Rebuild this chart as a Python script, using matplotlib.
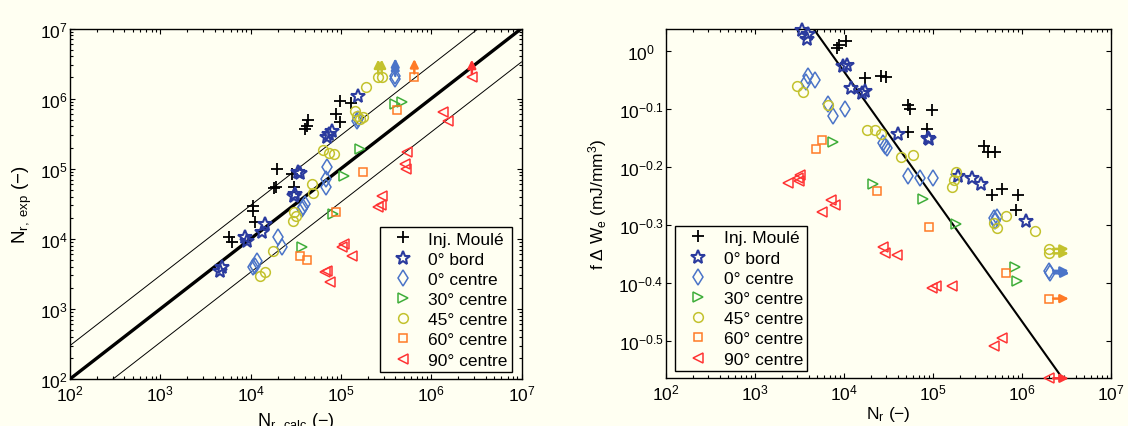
import matplotlib
matplotlib.use('Agg')
import matplotlib.pyplot as plt
import numpy as np
from matplotlib.ticker import FixedLocator, FixedFormatter, LogLocator, NullLocator, NullFormatter

plt.rcParams['font.family'] = ['Liberation Sans', 'DejaVu Sans']
plt.rcParams['mathtext.fontset'] = 'custom'
plt.rcParams['mathtext.rm'] = 'Liberation Sans'
plt.rcParams['mathtext.it'] = 'Liberation Sans:italic'
plt.rcParams['mathtext.bf'] = 'Liberation Sans:bold'
plt.rcParams['mathtext.default'] = 'regular'

BG = '#fffff2'
FS = 12.5

labels = ['Inj. Moulé', '0° bord', '0° centre', '30° centre',
          '45° centre', '60° centre', '90° centre']

# ---- left panel : N_r,calc vs N_r,exp ----
inj_calc = [1.98e4, 2.85e4, 1.91e4, 1.83e4, 3.03e4, 4.0e4, 4.36e4, 4.25e4, 8.75e4,
            9.8e4, 9.8e4, 1.29e5, 1.07e4, 1.07e4, 1.12e4, 5.7e3, 6.2e3]
inj_exp = [9.9e4, 8.4e4, 5.4e4, 5.3e4, 5.5e4, 3.7e5, 5.0e5, 4.1e5, 6.0e5,
           9.1e5, 4.6e5, 8.6e5, 2.96e4, 2.52e4, 1.72e4, 1.05e4, 8.9e3]

b0_calc = [4.58e3, 4.79e3, 8.67e3, 9.06e3, 1.33e4, 1.44e4, 3.10e4, 3.05e4, 3.37e4,
           3.52e4, 6.97e4, 7.4e4, 7.9e4, 1.56e5]
b0_exp = [3.51e3, 3.92e3, 1.05e4, 9.4e3, 1.24e4, 1.63e4, 4.36e4, 4.12e4, 8.9e4,
          8.7e4, 2.81e5, 3.16e5, 3.48e5, 1.10e6]

c0_calc = [1.07e4, 1.12e4, 1.17e4, 2.03e4, 2.21e4, 3.68e4, 3.84e4, 4.0e4, 6.8e4,
           6.84e4, 6.97e4, 1.50e5, 1.56e5, 4.0e5, 4.0e5]
c0_exp = [3.92e3, 4.13e3, 4.88e3, 1.05e4, 7.6e3, 2.66e4, 2.81e4, 3.13e4, 5.43e4,
          7.13e4, 1.05e5, 4.84e5, 5.12e5, 2.09e6, 1.88e6]

c30_calc = [3.72e4, 8.1e4, 1.07e5, 1.62e5, 3.98e5, 4.79e5]
c30_exp = [7.6e3, 2.24e4, 7.8e4, 1.91e5, 8.3e5, 8.9e5]

c45_calc = [1.27e4, 1.44e4, 1.78e4, 2.92e4, 3.03e4, 3.18e4, 4.74e4, 4.95e4, 6.38e4,
            7.45e4, 8.4e4, 1.43e5, 1.51e5, 1.63e5, 1.77e5, 1.90e5, 2.59e5, 2.83e5]
c45_exp = [2.98e3, 3.40e3, 6.76e3, 1.81e4, 2.39e4, 2.14e4, 6.05e4, 4.46e4, 1.87e5,
           1.66e5, 1.62e5, 6.7e5, 5.6e5, 5.12e5, 5.41e5, 1.45e6, 2.01e6, 2.01e6]

c60_calc = [3.55e4, 4.17e4, 8.9e4, 1.74e5, 4.17e5, 6.5e5]
c60_exp = [5.6e3, 5.0e3, 2.4e4, 9.1e4, 6.8e5, 2.04e6]

c90_calc = [6.67e4, 6.97e4, 7.57e4, 1.02e5, 1.08e5, 1.32e5, 2.59e5, 2.76e5, 2.83e5,
            5.13e5, 5.26e5, 5.36e5, 1.36e6, 1.55e6, 2.82e6]
c90_exp = [3.33e3, 3.51e3, 2.39e3, 7.57e3, 8.43e3, 5.62e3, 2.81e4, 3.03e4, 4.12e4,
           1.17e5, 9.9e4, 1.71e5, 6.38e5, 4.84e5, 2.0e6]

# runouts (index of points drawn with an arrow)
runout_left = {'0° centre': [13, 14], '45° centre': [16, 17],
               '60° centre': [5], '90° centre': [14]}

# ---- right panel : N_r vs f.dWe (mJ/mm3) ----
inj_nr = [8.3e3, 8.7e3, 1.05e4, 1.74e4, 2.63e4, 3.0e4, 5.25e4, 5.5e4, 9.8e4,
          5.25e4, 8.5e4, 3.7e5, 4.2e5, 5.0e5, 6.0e5, 4.6e5, 9.1e5, 8.5e5]
inj_dwe = [1.012, 1.021, 1.040, 0.897, 0.904, 0.900, 0.807, 0.794, 0.792,
           0.724, 0.734, 0.686, 0.670, 0.670, 0.579, 0.564, 0.564, 0.533]

b0_nr = [3.39e3, 3.80e3, 3.89e3, 9.8e3, 1.07e4, 1.20e4, 1.58e4, 1.70e4, 4.07e4,
         8.9e4, 9.1e4, 1.91e5, 2.75e5, 3.47e5, 1.10e6]
b0_dwe = [1.084, 1.047, 1.067, 0.940, 0.946, 0.863, 0.845, 0.851, 0.719,
          0.708, 0.705, 0.608, 0.603, 0.589, 0.509]

c0_nr = [3.72e3, 3.98e3, 4.68e3, 6.61e3, 7.59e3, 1.02e4, 2.75e4, 2.88e4, 3.02e4,
         5.25e4, 7.08e4, 1.0e5, 4.79e5, 5.01e5, 5.25e5, 2.0e6, 2.04e6]
c0_dwe = [0.885, 0.906, 0.889, 0.811, 0.773, 0.794, 0.695, 0.686, 0.681,
          0.608, 0.603, 0.603, 0.516, 0.509, 0.518, 0.418, 0.414]

c30_nr = [7.6e3, 2.14e4, 7.8e4, 1.82e5, 8.3e5, 8.9e5]
c30_dwe = [0.697, 0.589, 0.556, 0.504, 0.424, 0.402]

c45_nr = [2.95e3, 3.47e3, 6.61e3, 1.82e4, 2.24e4, 2.63e4, 4.37e4, 6.03e4, 1.62e5,
          1.74e5, 1.82e5, 4.9e5, 5.25e5, 6.61e5, 1.41e6, 2.0e6, 2.0e6]
c45_dwe = [0.871, 0.849, 0.807, 0.731, 0.729, 0.719, 0.655, 0.661, 0.583,
           0.598, 0.618, 0.506, 0.496, 0.519, 0.490, 0.456, 0.448]

c60_nr = [4.9e3, 5.6e3, 2.34e4, 9.1e4, 6.6e5, 2.0e6]
c60_dwe = [0.678, 0.703, 0.573, 0.498, 0.414, 0.3745]

c90_nr = [2.34e3, 3.02e3, 3.16e3, 3.24e3, 5.6e3, 7.2e3, 7.9e3, 2.75e4, 2.88e4,
          3.89e4, 9.8e4, 1.07e5, 1.62e5, 4.79e5, 6.0e5, 2.0e6]
c90_dwe = [0.593, 0.603, 0.597, 0.610, 0.527, 0.553, 0.543, 0.460, 0.449,
           0.445, 0.391, 0.394, 0.393, 0.310, 0.320, 0.2731]

runout_right = {'0° centre': [15, 16], '45° centre': [15, 16],
                '60° centre': [5], '90° centre': [15]}

# energy model fit  f.dWe = A * N^b
fit_A = 6.67
fit_b = -0.215

left_data = [(inj_calc, inj_exp), (b0_calc, b0_exp), (c0_calc, c0_exp), (c30_calc, c30_exp),
             (c45_calc, c45_exp), (c60_calc, c60_exp), (c90_calc, c90_exp)]
right_data = [(inj_nr, inj_dwe), (b0_nr, b0_dwe), (c0_nr, c0_dwe), (c30_nr, c30_dwe),
              (c45_nr, c45_dwe), (c60_nr, c60_dwe), (c90_nr, c90_dwe)]

styles = {
    'Inj. Moulé': dict(marker='+', color='black', ms=8, mew=1.3),
    '0° bord': dict(marker='*', color='#2b3b9e', ms=10, mew=1.5),
    '0° centre': dict(marker='d', color='#4b74c8', ms=8, mew=1.1),
    '30° centre': dict(marker='>', color='#3fae3a', ms=7.5, mew=1.1),
    '45° centre': dict(marker='o', color='#c3c22e', ms=7, mew=1.1),
    '60° centre': dict(marker='s', color='#ff7a26', ms=6, mew=1.1),
    '90° centre': dict(marker='<', color='#ff3434', ms=7.5, mew=1.1),
}

fig = plt.figure(figsize=(11.28, 4.27), dpi=100, facecolor=BG)
axL = fig.add_axes([70 / 1128, 47 / 427, 451.5 / 1128, 350.5 / 427], facecolor=BG)
axR = fig.add_axes([666 / 1128, 47.7 / 427, 445 / 1128, 349.3 / 427], facecolor=BG)


def scatter(ax, x, y, name):
    st = styles[name]
    return ax.plot(x, y, ls='none', marker=st['marker'], mfc='none', mec=st['color'],
                   ms=st['ms'], mew=st['mew'], label=name, clip_on=False, zorder=4)[0]


def arrow(ax, x0, y0, x1, y1, color):
    ax.annotate('', xy=(x1, y1), xytext=(x0, y0), annotation_clip=False,
                arrowprops=dict(arrowstyle='-|>,head_length=0.6,head_width=0.3',
                                color=color, lw=1.8, mutation_scale=8,
                                shrinkA=0, shrinkB=0), zorder=3)


# left panel
xx = np.array([1e2, 1e7])
axL.plot(xx, xx, color='black', lw=2.4, zorder=2)
axL.plot(xx, 3 * xx, color='black', lw=0.7, zorder=2)
axL.plot(xx, xx / 3, color='black', lw=0.7, zorder=2)
handlesL = []
for name, (x, y) in zip(labels, left_data):
    handlesL.append(scatter(axL, x, y, name))
    for i in runout_left.get(name, []):
        arrow(axL, x[i], y[i] * 1.12, x[i], y[i] * 1.8, styles[name]['color'])

# right panel
nn = np.array([1e2, 1e7])
axR.plot(nn, fit_A * nn ** fit_b, color='black', lw=1.5, zorder=2)
handlesR = []
for name, (x, y) in zip(labels, right_data):
    handlesR.append(scatter(axR, x, y, name))
    for i in runout_right.get(name, []):
        arrow(axR, x[i] * 1.12, y[i], x[i] * 1.68, y[i], styles[name]['color'])

for ax in (axL, axR):
    ax.set_xscale('log')
    ax.set_yscale('log')
    ax.set_xlim(1e2, 1e7)
    ax.xaxis.set_major_locator(LogLocator(base=10, numticks=10))
    ax.xaxis.set_minor_locator(LogLocator(base=10, subs=np.arange(2, 10), numticks=20))
    ax.xaxis.set_minor_formatter(NullFormatter())
    ax.tick_params(which='both', direction='in', top=True, right=True, labelsize=FS,
                   width=0.8)
    ax.tick_params(which='major', length=3.4)
    ax.tick_params(which='minor', length=2.0)
    ax.tick_params(axis='x', pad=3)
    for s in ax.spines.values():
        s.set_linewidth(1.0)

axL.set_ylim(1e2, 1e7)
axL.yaxis.set_major_locator(LogLocator(base=10, numticks=10))
axL.yaxis.set_minor_locator(LogLocator(base=10, subs=np.arange(2, 10), numticks=20))
axL.yaxis.set_minor_formatter(NullFormatter())
axL.tick_params(axis='y', pad=1.5)

axR.set_ylim(0.2731, 1.0897)
yt_exp = ['-0.5', '-0.4', '-0.3', '-0.2', '-0.1', '0']
axR.yaxis.set_major_locator(FixedLocator([10 ** float(e) for e in yt_exp]))
axR.yaxis.set_major_formatter(FixedFormatter([r'$10^{%s}$' % e for e in yt_exp]))
axR.yaxis.set_minor_locator(NullLocator())
axR.tick_params(axis='y', pad=18)
for t in axR.get_yticklabels():
    t.set_horizontalalignment('center')

axL.set_xlabel(r'$N_{r,\ calc}$ (−)', fontsize=13)
axL.set_ylabel(r'$N_{r,\ exp}$ (−)', fontsize=13.5)
axL.xaxis.set_label_coords(0.5, -0.088)
axL.yaxis.set_label_coords(-0.080, 0.5)

axR.set_xlabel(r'$N_{r}$ (−)', fontsize=FS)
axR.set_ylabel(r'f Δ $W_{e}$ (mJ/mm$^{3}$)', fontsize=FS)
axR.xaxis.set_label_coords(0.5, -0.074)
axR.yaxis.set_label_coords(-0.128, 0.5)

leg_kw = dict(borderaxespad=0, fontsize=FS, frameon=True, fancybox=False,
              handlelength=2.2, handletextpad=0.35, borderpad=0.25, labelspacing=0.29)
legL = axL.legend(handles=handlesL, loc='lower right', bbox_to_anchor=(0.979, 0.02), **leg_kw)
legR = axR.legend(handles=handlesR, loc='lower left', bbox_to_anchor=(0.020, 0.021), **leg_kw)
for leg in (legL, legR):
    fr = leg.get_frame()
    fr.set_edgecolor('black')
    fr.set_linewidth(1.0)
    fr.set_facecolor(BG)
    fr.set_alpha(1)
    leg.set_zorder(6)

fig.savefig('out.png', dpi=100, facecolor=BG)
